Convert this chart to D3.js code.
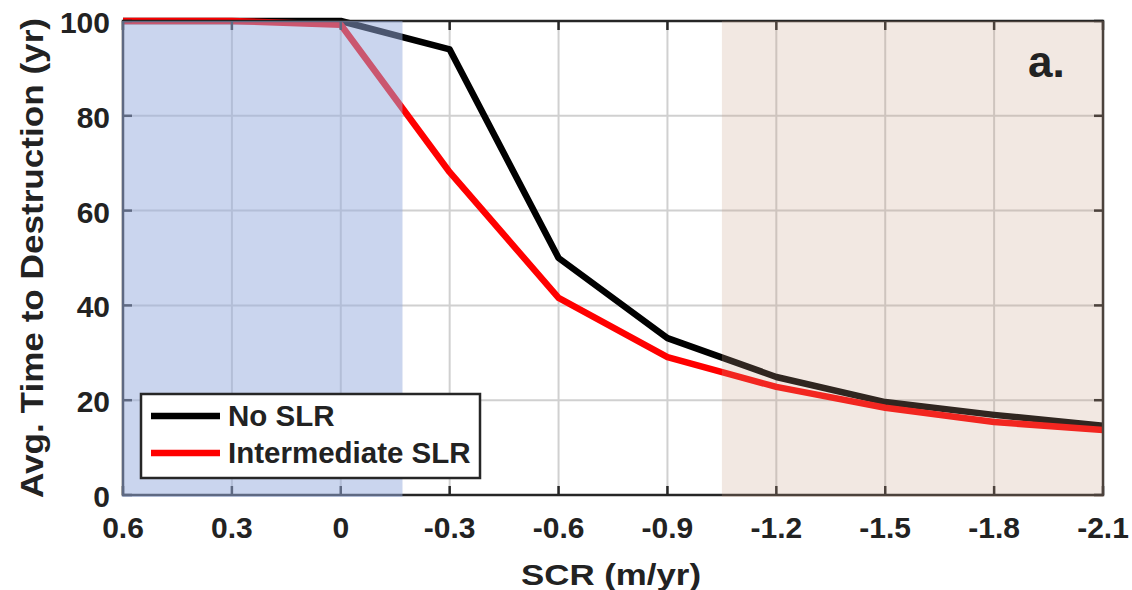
<!DOCTYPE html>
<html>
<head>
<meta charset="utf-8">
<script src="https://cdn.jsdelivr.net/npm/d3@7"></script>
<style>
  html, body { margin: 0; padding: 0; background: #fff; }
  svg { display: block; }
  text { font-family: "Liberation Sans", Arial, Helvetica, sans-serif; font-weight: bold; fill: #222; }
</style>
</head>
<body>
<svg id="chart" width="1132" height="590"></svg>
<script>
// Shoreline change rate (m/yr) and average time to destruction (yr)
const scr = [0.6, 0.3, 0, -0.3, -0.6, -0.9, -1.2, -1.5, -1.8, -2.1];
const noSLR = [100, 100, 100, 94, 50, 33.1, 24.9, 19.6, 16.9, 14.6];
const intermediateSLR = [100, 100, 99.2, 68.1, 41.6, 29.1, 22.8, 18.4, 15.4, 13.7];
const seriesNames = ["No SLR", "Intermediate SLR"];
const xTicks = [0.6, 0.3, 0, -0.3, -0.6, -0.9, -1.2, -1.5, -1.8, -2.1];
const yTicks = [0, 20, 40, 60, 80, 100];
// Shaded bands: accretion side and strong-erosion side
const accretionBand = [0.6, -0.17];
const erosionBand = [-1.05, -2.1];

const svg = d3.select("#chart");
const m = { left: 123, right: 1103, top: 21, bottom: 495 };

const x = d3.scaleLinear().domain([0.6, -2.1]).range([m.left, m.right]);
const y = d3.scaleLinear().domain([0, 100]).range([m.bottom, m.top]);

// Grid
const grid = svg.append("g");
grid.selectAll(".gx").data(xTicks).enter().append("line")
  .attr("x1", d => x(d)).attr("x2", d => x(d))
  .attr("y1", m.top).attr("y2", m.bottom)
  .attr("stroke", "#d0d0d0").attr("stroke-width", 2);
grid.selectAll(".gy").data(yTicks).enter().append("line")
  .attr("x1", m.left).attr("x2", m.right)
  .attr("y1", d => y(d)).attr("y2", d => y(d))
  .attr("stroke", "#d0d0d0").attr("stroke-width", 2);

// Series lines
const line = d3.line().x(d => x(d[0])).y(d => y(d[1]));
const colors = ["#000000", "#ff0000"];
const series = [noSLR, intermediateSLR];
series.forEach((vals, i) => {
  svg.append("path")
    .datum(scr.map((s, j) => [s, vals[j]]))
    .attr("d", line)
    .attr("fill", "none")
    .attr("stroke", colors[i])
    .attr("stroke-width", 6.5)
    .attr("stroke-linejoin", "round");
});

// Axes box with inward ticks
const tickLen = 9;
const axisColor = "#262626";
const ax = svg.append("g");
ax.append("rect")
  .attr("x", m.left).attr("y", m.top)
  .attr("width", m.right - m.left).attr("height", m.bottom - m.top)
  .attr("fill", "none").attr("stroke", axisColor).attr("stroke-width", 2.5);
xTicks.forEach(t => {
  ax.append("line").attr("x1", x(t)).attr("x2", x(t))
    .attr("y1", m.bottom).attr("y2", m.bottom - tickLen)
    .attr("stroke", axisColor).attr("stroke-width", 2.5);
  ax.append("line").attr("x1", x(t)).attr("x2", x(t))
    .attr("y1", m.top).attr("y2", m.top + tickLen)
    .attr("stroke", axisColor).attr("stroke-width", 2.5);
});
yTicks.forEach(t => {
  ax.append("line").attr("x1", m.left).attr("x2", m.left + tickLen)
    .attr("y1", y(t)).attr("y2", y(t))
    .attr("stroke", axisColor).attr("stroke-width", 2.5);
  ax.append("line").attr("x1", m.right).attr("x2", m.right - tickLen)
    .attr("y1", y(t)).attr("y2", y(t))
    .attr("stroke", axisColor).attr("stroke-width", 2.5);
});

// Translucent bands laid over the data
svg.append("rect")
  .attr("x", x(accretionBand[0]) - 1).attr("y", m.top)
  .attr("width", x(accretionBand[1]) - x(accretionBand[0]) + 1)
  .attr("height", m.bottom - m.top + 2)
  .attr("fill", "rgb(150,172,222)").attr("fill-opacity", 0.5);
svg.append("rect")
  .attr("x", x(erosionBand[0])).attr("y", m.top)
  .attr("width", x(erosionBand[1]) - x(erosionBand[0]) + 1)
  .attr("height", m.bottom - m.top + 2)
  .attr("fill", "rgb(200,160,135)").attr("fill-opacity", 0.24);

// Tick labels
svg.selectAll(".xl").data(xTicks).enter().append("text")
  .attr("x", d => x(d)).attr("y", 538)
  .attr("text-anchor", "middle").attr("font-size", 30)
  .text(d => d3.format("")(d).replace("−", "-"));
svg.selectAll(".yl").data(yTicks).enter().append("text")
  .attr("x", 110).attr("y", d => y(d) + 12)
  .attr("text-anchor", "end").attr("font-size", 30)
  .text(d => d);

// Axis titles
svg.append("text")
  .attr("x", 611).attr("y", 585)
  .attr("text-anchor", "middle").attr("font-size", 30)
  .attr("textLength", 180).attr("lengthAdjust", "spacingAndGlyphs")
  .text("SCR (m/yr)");
svg.append("text")
  .attr("transform", `translate(43,${(m.top + m.bottom) / 2}) rotate(-90)`)
  .attr("text-anchor", "middle").attr("font-size", 31)
  .attr("textLength", 480).attr("lengthAdjust", "spacingAndGlyphs")
  .text("Avg. Time to Destruction (yr)");

// Panel letter
svg.append("text")
  .attr("x", 1028).attr("y", 77)
  .attr("font-size", 44)
  .text("a.");

// Legend
const lg = svg.append("g");
lg.append("rect")
  .attr("x", 141).attr("y", 394).attr("width", 339).attr("height", 84)
  .attr("fill", "#fff").attr("stroke", "#262626").attr("stroke-width", 2.5);
seriesNames.forEach((name, i) => {
  const ly = 416 + i * 37;
  lg.append("line").attr("x1", 151).attr("x2", 220)
    .attr("y1", ly).attr("y2", ly)
    .attr("stroke", colors[i]).attr("stroke-width", 6.5);
  lg.append("text").attr("x", 228).attr("y", ly + 10)
    .attr("font-size", 29.5)
    .text(name);
});
</script>
</body>
</html>
